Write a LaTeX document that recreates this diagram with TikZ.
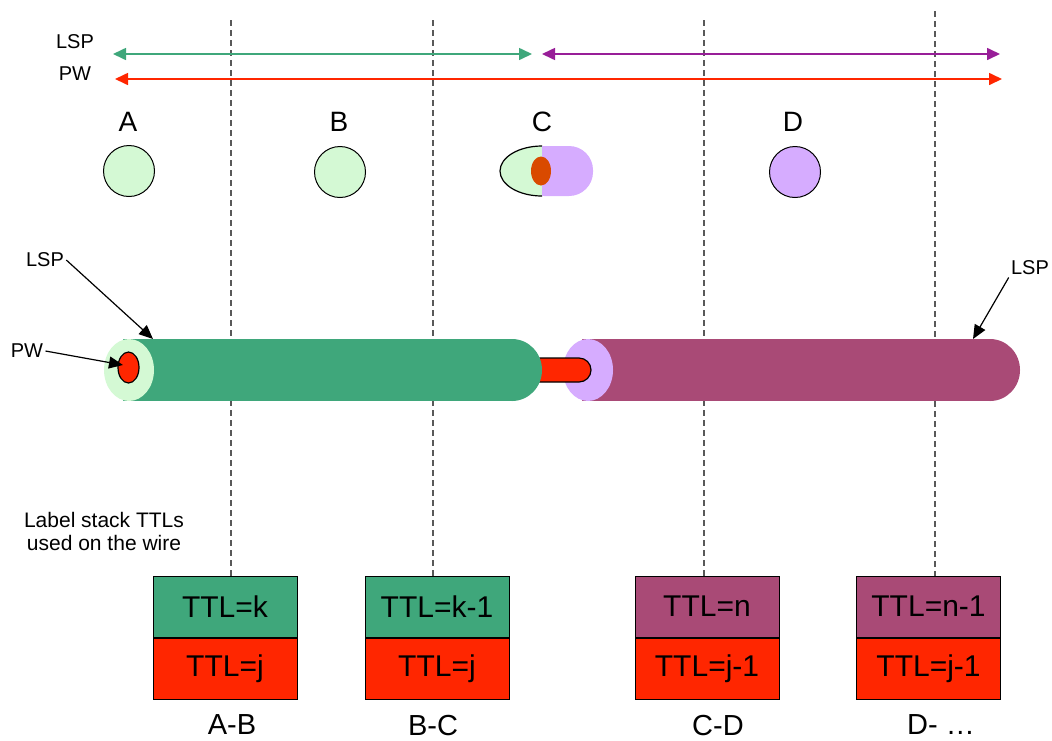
\documentclass[tikz,border=0pt]{standalone}
\usepackage{fontspec}
\setmainfont{Liberation Sans}
\usetikzlibrary{arrows.meta, positioning}

\definecolor{lspgreen}{HTML}{3FA77B}
\definecolor{lightgreen}{HTML}{D4F9D4}
\definecolor{lspplum}{HTML}{A94A76}
\definecolor{lightlilac}{HTML}{D6ACFF}
\definecolor{pwred}{HTML}{FF2600}
\definecolor{burnt}{HTML}{D94A00}
\definecolor{arrowpurple}{HTML}{981E98}

\begin{document}
\begin{tikzpicture}[x=0.5pt, y=-0.5pt,
  lbl/.style={font=\fontsize{10}{12}\selectfont, inner sep=1pt},
  letter/.style={font=\fontsize{14}{16}\selectfont},
  router/.style={draw, circle, minimum size=25.5pt, inner sep=0pt,
                 line width=0.5pt},
  reach/.style={{Triangle[length=6.5pt, width=6pt]}-{Triangle[length=6.5pt, width=6pt]},
                line width=0.8pt},
  pointer/.style={-{Triangle[length=7pt, width=6pt]}, line width=0.6pt},
  cut/.style={draw=black!65, dash pattern=on 3pt off 2pt, line width=0.6pt},
  ttl/.style={draw, line width=0.5pt, minimum width=72pt, minimum height=30.5pt,
              inner sep=0pt, font=\fontsize{15}{18}\selectfont},
  seg/.style={font=\fontsize{14.5}{17}\selectfont, inner sep=0pt},
]
  \useasboundingbox (0,0) rectangle (1052,740);

  % Label stacks per hop
  \node[ttl, fill=lspgreen] (abTop) at (225,606.5) {TTL=k};
  \node[ttl, fill=pwred, below=0pt of abTop] (abBot) {TTL=j};
  \node[ttl, fill=lspgreen] (bcTop) at (437,606.5) {TTL=k-1};
  \node[ttl, fill=pwred, below=0pt of bcTop] (bcBot) {TTL=j};
  \node[ttl, fill=lspplum] (cdTop) at (707,606.5) {TTL=n};
  \node[ttl, fill=pwred, below=0pt of cdTop] (cdBot) {TTL=j-1};
  \node[ttl, fill=lspplum] (dxTop) at (928.5,606.5) {TTL=n-1};
  \node[ttl, fill=pwred, below=0pt of dxTop] (dxBot) {TTL=j-1};

  \node[seg] (segAB) at (232,725) {A-B};
  \node[seg] (segBC) at (433,725) {B-C};
  \node[seg] (segCD) at (718,725) {C-D};
  \node[seg] (segDX) at (941,725) {D- …};

  % Hop boundaries
  \coordinate (cutAB) at (231,20);
  \coordinate (cutBC) at (433,20);
  \coordinate (cutCD) at (704,20);
  \coordinate (cutDX) at (935,11);
  \draw[cut] (cutAB) -- (cutAB |- abTop.north);
  \draw[cut] (cutBC) -- (cutBC |- bcTop.north);
  \draw[cut] (cutCD) -- (cutCD |- cdTop.north);
  \draw[cut] (cutDX) -- (cutDX |- dxTop.north);

  % Segment reach
  \node[lbl] (lspTop) at (75,41.5) {LSP};
  \node[lbl] (pwTop)  at (75,74) {PW};
  \coordinate (lspWest) at (113,54);
  \coordinate (lspMidL) at (532,54);
  \coordinate (lspMidR) at (542,54);
  \coordinate (lspEast) at (1000,54);
  \coordinate (pwWest)  at (115,79);
  \coordinate (pwEast)  at (1002,79);
  \draw[reach, color=lspgreen]    (lspWest) -- (lspMidL);
  \draw[reach, color=arrowpurple] (lspMidR) -- (lspEast);
  \draw[reach, color=pwred]       (pwWest)  -- (pwEast);

  % Routers
  \node[letter] (labA) at (128,122) {A};
  \node[letter] (labB) at (339,122) {B};
  \node[letter] (labC) at (542,122) {C};
  \node[letter] (labD) at (793,122) {D};
  \node[router, fill=lightgreen] (rtA) at (129,171) {};
  \node[router, fill=lightgreen] (rtB) at (340,172) {};
  \node[router, fill=lightlilac] (rtD) at (795,172) {};

  \begin{scope}
    \clip (490,140) rectangle (542,202);
    \filldraw[fill=lightgreen, line width=0.6pt] (542,171) ellipse [x radius=42, y radius=25];
  \end{scope}
  \begin{scope}
    \clip (542,140) rectangle (600,202);
    \fill[lightlilac, rounded corners=12pt] (520,146) rectangle (593,196);
  \end{scope}
  \fill[burnt] (541,171) ellipse [x radius=10, y radius=14.5];

  % Tunnels on the wire
  \fill[lspplum] (582,339) rectangle (990,401);
  \fill[lspplum] (990,370) ellipse [x radius=30, y radius=31];
  \fill[lightlilac] (588,370) ellipse [x radius=25, y radius=31];
  \filldraw[fill=pwred, line width=0.6pt, rounded corners=6pt] (528,358) rectangle (591,382);
  \fill[lspgreen] (123,339) rectangle (512,401);
  \fill[lspgreen] (512,370) ellipse [x radius=30, y radius=31];
  \fill[lightgreen] (129,370) ellipse [x radius=25, y radius=31];
  \filldraw[fill=pwred, line width=0.6pt] (128.5,367.5) ellipse [x radius=10.5, y radius=15.5];

  % Callouts
  \node[lbl] (lspL) at (45,260) {LSP};
  \node[lbl] (pwL)  at (27,351) {PW};
  \node[lbl] (lspR) at (1030,268) {LSP};
  \coordinate (lspTipL) at (153,339);
  \coordinate (pwTip)   at (123,365);
  \coordinate (lspTipR) at (973,339);
  \draw[pointer] (lspL.east) -- (lspTipL);
  \draw[pointer] (pwL.east) -- (pwTip);
  \draw[pointer] (lspR.south west) -- (lspTipR);

  \node[align=center, font=\fontsize{10.5}{11.5}\selectfont] (stackNote) at (104,531)
        {Label stack TTLs\\used on the wire};
\end{tikzpicture}
\end{document}
